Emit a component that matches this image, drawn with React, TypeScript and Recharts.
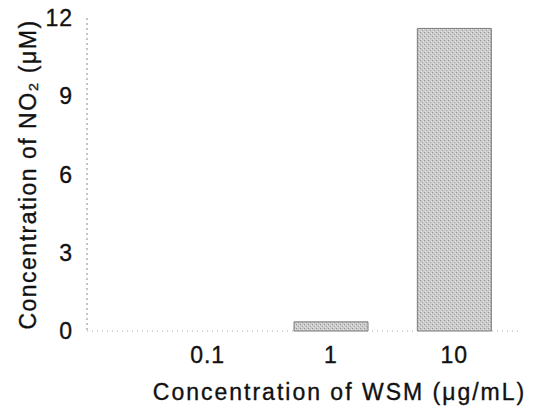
import { BarChart, Bar, XAxis, YAxis } from "recharts";

const doses = ["0.1", "1", "10"];
const no2Values = [0, 0.35, 11.6];
const yTicks = [0, 3, 6, 9, 12];

const chartData = doses.map((dose, i) => ({ dose, no2: no2Values[i] }));

const font = "'Liberation Sans', Arial, Helvetica, sans-serif";
// a thin outline on the text to get closer to the heavy printed look
const ink = { fill: "#111", stroke: "#111", strokeWidth: 0.35, fontFamily: font };

const App = () => {
  return (
    <div style={{ position: "absolute", left: 0, top: 0, background: "#fff" }}>
      <BarChart
        width={534}
        height={410}
        data={chartData}
        margin={{ top: 18, right: 14, left: 0, bottom: 0 }}
        barCategoryGap="20%"
      >
        <defs>
          <pattern id="stipple" width="4" height="4" patternUnits="userSpaceOnUse">
            <rect width="4" height="4" fill="#cbcbcb" />
            <rect x="0" y="0" width="1" height="1" fill="#939393" />
            <rect x="2" y="2" width="1" height="1" fill="#a8a8a8" />
            <rect x="3" y="1" width="1" height="1" fill="#e6e6e6" />
            <rect x="1" y="3" width="1" height="1" fill="#e6e6e6" />
          </pattern>
        </defs>
        <XAxis
          dataKey="dose"
          height={79}
          padding={{ left: 59, right: 4 }}
          axisLine={{ stroke: "#aaa", strokeDasharray: "1 4" }}
          tickLine={false}
          tickSize={0}
          tickMargin={16}
          tick={{ ...ink, fontSize: 23, letterSpacing: 1 }}
          label={{
            value: "Concentration of WSM (μg/mL)",
            position: "insideBottom",
            offset: 10,
            dx: 36,
            ...ink,
            fontSize: 23,
            letterSpacing: 2
          }}
        />
        <YAxis
          width={87}
          domain={[0, 12]}
          ticks={yTicks}
          axisLine={{ stroke: "#888", strokeDasharray: "2 3" }}
          tickLine={false}
          tickSize={0}
          tickMargin={14}
          tick={{ ...ink, fontSize: 23, letterSpacing: 1 }}
          label={{
            value: "Concentration of NO₂ (μM)",
            angle: -90,
            position: "center",
            dx: -16,
            ...ink,
            fontSize: 23,
            letterSpacing: 1.5
          }}
        />
        <Bar
          dataKey="no2"
          fill="url(#stipple)"
          stroke="#7a7a7a"
          strokeWidth={1}
          isAnimationActive={false}
        />
      </BarChart>
    </div>
  );
};

export default App;
